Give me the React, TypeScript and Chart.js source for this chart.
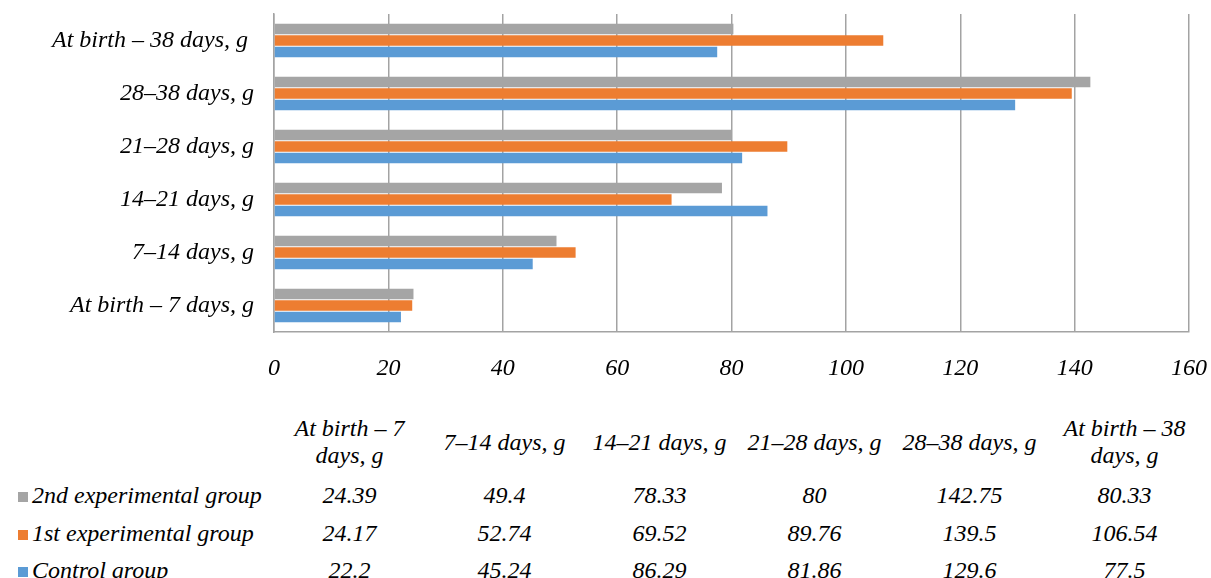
import React, { useEffect, useRef } from "react";
import { Chart, registerables } from "chart.js";

Chart.register(...registerables);

// Periods, listed bottom-to-top on the chart and left-to-right in the table
const categories = [
  "At birth – 7 days, g",
  "7–14 days, g",
  "14–21 days, g",
  "21–28 days, g",
  "28–38 days, g",
  "At birth – 38 days, g ",
];

// Weight gain per period, grams
const secondGroup = [24.39, 49.4, 78.33, 80, 142.75, 80.33];
const firstGroup = [24.17, 52.74, 69.52, 89.76, 139.5, 106.54];
const controlGroup = [22.2, 45.24, 86.29, 81.86, 129.6, 77.5];

const seriesNames = ["2nd experimental group", "1st experimental group", "Control group"];
const seriesValues = [secondGroup, firstGroup, controlGroup];
const seriesColors = ["#A5A5A5", "#ED7D31", "#5B9BD5"];

const axisMin = 0;
const axisMax = 160;
const axisStep = 20;

const FONT_FAMILY = "'Liberation Serif', 'Times New Roman', Times, serif";
const GRID_COLOR = "#a3a3a3";

const W = 1211;
const H = 578;
const CANVAS_H = 395;
const PLOT_BOTTOM = 332;
const COL_LEFT = 272;
const COL_W = 155;

// keep tick labels from pushing the plot area inwards
function clearScalePadding(s: any) {
  s.paddingTop = 0;
  s.paddingBottom = 0;
  s.paddingLeft = 0;
  s.paddingRight = 0;
}

export default function App() {
  const canvasRef = useRef<HTMLCanvasElement | null>(null);

  useEffect(() => {
    if (!canvasRef.current) return;
    const font = { family: FONT_FAMILY, size: 24, style: "italic" as const };
    const chart = new Chart(canvasRef.current, {
      type: "bar",
      data: {
        labels: categories,
        datasets: seriesNames.map((name, i) => ({
          label: name,
          data: seriesValues[i],
          backgroundColor: seriesColors[i],
          borderWidth: 0,
          barPercentage: 0.92,
          categoryPercentage: 0.65,
        })),
      },
      options: {
        indexAxis: "y",
        responsive: false,
        animation: false,
        layout: { padding: { top: 14, right: 22, left: 0, bottom: 0 } },
        plugins: {
          legend: { display: false },
          tooltip: { enabled: false },
        },
        scales: {
          x: {
            min: axisMin,
            max: axisMax,
            ticks: { stepSize: axisStep, padding: 22, font, color: "#000" },
            grid: { color: GRID_COLOR, lineWidth: 1.5, drawTicks: false },
            border: { display: true, color: GRID_COLOR, width: 1.5 },
            afterFit: (s: any) => {
              s.height = CANVAS_H - PLOT_BOTTOM;
              clearScalePadding(s);
            },
          },
          y: {
            reverse: true,
            grid: { display: false, drawTicks: false },
            border: { display: true, color: GRID_COLOR, width: 1.5 },
            ticks: { padding: 20, font, color: "#000" },
            afterFit: (s: any) => {
              s.width = 274;
              clearScalePadding(s);
            },
          },
        },
      },
    });
    return () => chart.destroy();
  }, []);

  const textStyle: React.CSSProperties = {
    fontFamily: FONT_FAMILY,
    fontStyle: "italic",
    fontSize: 24,
    color: "#000",
  };

  return (
    <div
      style={{
        position: "absolute",
        left: 0,
        top: 0,
        width: W,
        height: H,
        background: "#fff",
        overflow: "hidden",
      }}
    >
      <canvas
        ref={canvasRef}
        width={W}
        height={CANVAS_H}
        style={{ position: "absolute", left: 0, top: 0, width: W, height: CANVAS_H }}
      />
      {/* data table: header row */}
      {categories.map((c, j) => (
        <div
          key={"h" + j}
          style={{
            ...textStyle,
            position: "absolute",
            left: COL_LEFT + j * COL_W,
            top: 415,
            width: COL_W,
            height: 54,
            lineHeight: "27px",
            display: "flex",
            alignItems: "center",
            justifyContent: "center",
            textAlign: "center",
          }}
        >
          {c.trim()}
        </div>
      ))}
      {/* data table: one row per series */}
      {seriesNames.map((name, i) => {
        const top = 477 + i * 37.5;
        return (
          <React.Fragment key={"r" + i}>
            <div
              style={{
                ...textStyle,
                position: "absolute",
                left: 18,
                top,
                height: 36,
                lineHeight: "36px",
                whiteSpace: "nowrap",
                display: "flex",
                alignItems: "center",
              }}
            >
              <span
                style={{
                  display: "inline-block",
                  width: 10,
                  height: 10,
                  background: seriesColors[i],
                  marginRight: 4,
                  marginTop: 4,
                }}
              />
              {name}
            </div>
            {seriesValues[i].map((v, j) => (
              <div
                key={"c" + j}
                style={{
                  ...textStyle,
                  position: "absolute",
                  left: COL_LEFT + j * COL_W,
                  top,
                  width: COL_W,
                  height: 36,
                  lineHeight: "36px",
                  textAlign: "center",
                }}
              >
                {String(v)}
              </div>
            ))}
          </React.Fragment>
        );
      })}
    </div>
  );
}
